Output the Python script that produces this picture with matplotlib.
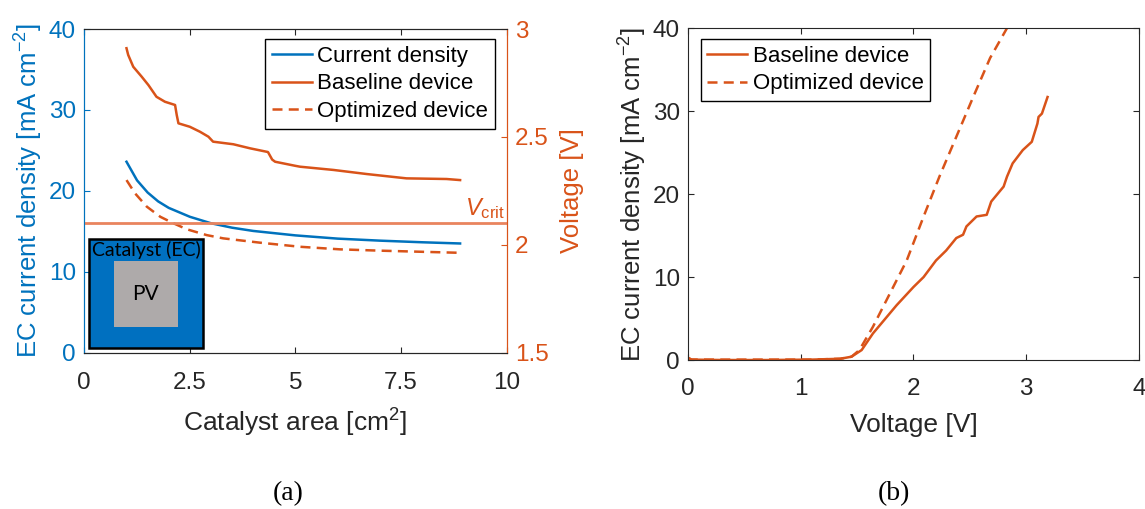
import numpy as np
import matplotlib
matplotlib.use("Agg")
import matplotlib.pyplot as plt
from matplotlib.patches import Rectangle

plt.rcParams['font.family'] = ['Liberation Sans', 'DejaVu Sans']
plt.rcParams['mathtext.fontset'] = 'custom'
plt.rcParams['mathtext.rm'] = 'Liberation Sans'
plt.rcParams['mathtext.it'] = 'Liberation Sans:italic'

BLUE = '#0072BD'
ORANGE = '#D95319'
VCRIT_C = '#E9845E'
GREY = '#262626'

# ---- panel (a) data ----
area_j = [1.0, 1.25, 1.5, 1.75, 2.0, 2.5, 3.0, 3.5, 4.0, 5.0, 6.0, 7.0, 8.0, 8.9]
current_density = [23.6, 21.3, 19.8, 18.7, 17.9, 16.8, 16.0, 15.45, 15.05, 14.5,
                   14.1, 13.85, 13.65, 13.5]

area_base = [1.0, 1.04, 1.16, 1.36, 1.52, 1.71, 1.91, 2.15, 2.19, 2.23, 2.5, 2.74,
             2.94, 3.05, 3.53, 3.93, 4.35, 4.45, 4.52, 5.0, 5.11, 5.9, 6.69, 7.63,
             8.58, 8.9]
volt_base = [2.911, 2.88, 2.825, 2.779, 2.74, 2.686, 2.663, 2.648, 2.601, 2.563,
             2.547, 2.524, 2.501, 2.478, 2.466, 2.447, 2.43, 2.395, 2.385, 2.366,
             2.362, 2.347, 2.328, 2.308, 2.305, 2.300]

area_opt = [1.0, 1.2, 1.48, 1.8, 2.11, 2.43, 2.9, 3.29, 4.16, 5.11, 6.06, 7.0,
            7.95, 8.9]
volt_opt = [2.30, 2.239, 2.177, 2.13, 2.10, 2.072, 2.045, 2.03, 2.01, 1.991,
            1.979, 1.973, 1.968, 1.963]

v_crit = 2.1

# ---- panel (b) data ----
v_base = [0.0, 0.03, 0.3, 0.7, 1.1, 1.35, 1.45, 1.54, 1.64, 1.85, 2.0, 2.09, 2.2,
          2.29, 2.38, 2.44, 2.47, 2.56, 2.65, 2.69, 2.8, 2.83, 2.88, 2.97, 3.05,
          3.1, 3.11, 3.14, 3.19]
j_base = [0.25, 0.05, 0.0, 0.0, 0.05, 0.15, 0.4, 1.2, 3.2, 6.6, 8.8, 10.0, 12.0,
          13.2, 14.7, 15.1, 16.1, 17.3, 17.5, 19.1, 20.9, 22.1, 23.7, 25.3, 26.3,
          28.5, 29.3, 29.7, 31.7]

v_opt = [0.0, 0.03, 1.1, 1.35, 1.45, 1.52, 1.64, 1.79, 1.94, 2.09, 2.23, 2.38,
         2.53, 2.68, 2.83]
j_opt = [0.25, 0.05, 0.05, 0.15, 0.4, 1.2, 4.0, 8.0, 12.0, 17.3, 22.1, 26.9,
         31.7, 36.4, 40.0]

fig = plt.figure(figsize=(11.45, 5.09), dpi=100)
ax1 = fig.add_axes([0.0736, 0.307, 0.3688, 0.636])
ax2 = ax1.twinx()
axb = fig.add_axes([0.601, 0.2927, 0.3936, 0.652])

lw = 1.8
dash = (4, 2.5)
TICK_FS = 17.5
XLAB_FS = 19
YLAB_FS = 18.5
LEG_FS = 16

# left axis: current density
h1, = ax1.plot(area_j, current_density, color=BLUE, lw=lw, label='Current density')
ax1.set_xlim(0, 10)
ax1.set_ylim(0, 40)
ax1.set_xticks([0, 2.5, 5, 7.5, 10])
ax1.set_xticklabels(['0', '2.5', '5', '7.5', '10'])
ax1.set_yticks([0, 10, 20, 30, 40])
ax1.set_xlabel('Catalyst area [cm$^{2}$]', fontsize=XLAB_FS, color=GREY, labelpad=9)
ax1.set_ylabel('EC current density [mA cm$^{-2}$]', fontsize=YLAB_FS, color=BLUE,
               labelpad=3)
ax1.tick_params(axis='x', direction='in', length=4, labelsize=TICK_FS, colors=GREY,
                top=True, pad=14)
ax1.tick_params(axis='y', direction='in', length=4, labelsize=TICK_FS, colors=BLUE, pad=6)

# inset schematic
ax1.add_patch(Rectangle((0.12, 0.54), 2.68, 13.56, facecolor='#0070C0',
                        edgecolor='black', lw=1.8, zorder=5))
ax1.add_patch(Rectangle((0.70, 3.2), 1.51, 8.1, facecolor='#AEAAAA',
                        edgecolor='none', zorder=6))
ax1.text(1.46, 12.7, 'Catalyst (EC)', fontsize=14, family=['Lato', 'DejaVu Sans'],
         ha='center', va='center', color='black', zorder=7)
ax1.text(1.46, 7.25, 'PV', fontsize=15, family=['Lato', 'DejaVu Sans'],
         ha='center', va='center', color='black', zorder=7)

# right axis: voltage
h2, = ax2.plot(area_base, volt_base, color=ORANGE, lw=lw, label='Baseline device')
h3, = ax2.plot(area_opt, volt_opt, color=ORANGE, lw=lw, dashes=dash,
               label='Optimized device')
ax2.axhline(v_crit, color=VCRIT_C, lw=2)
ax2.text(9.95, v_crit + 0.01, r'$V_{\mathrm{crit}}$', fontsize=17, color=ORANGE,
         ha='right', va='bottom')
ax2.set_ylim(1.5, 3)
ax2.set_yticks([1.5, 2, 2.5, 3])
ax2.set_yticklabels(['1.5', '2', '2.5', '3'])
ax2.set_ylabel('Voltage [V]', fontsize=YLAB_FS, color=ORANGE, labelpad=8)
ax2.tick_params(axis='y', direction='in', length=4, labelsize=TICK_FS, colors=ORANGE,
                pad=6)

for ax in (ax1, ax2):
    ax.spines['left'].set_color(BLUE)
    ax.spines['right'].set_color(ORANGE)
    ax.spines['top'].set_color(GREY)
    ax.spines['bottom'].set_color(GREY)
    for s in ax.spines.values():
        s.set_linewidth(0.8)

leg = ax2.legend(handles=[h1, h2, h3], loc='upper right',
                 bbox_to_anchor=(0.9725, 0.969), borderaxespad=0, fontsize=LEG_FS,
                 fancybox=False, edgecolor='black', framealpha=1,
                 handlelength=1.8, handletextpad=0.25, labelspacing=0.3,
                 borderpad=0.3)
leg.get_frame().set_linewidth(1.0)

# panel (b)
axb.plot(v_base, j_base, color=ORANGE, lw=lw, label='Baseline device')
axb.plot(v_opt, j_opt, color=ORANGE, lw=lw, dashes=dash, label='Optimized device')
axb.set_xlim(0, 4)
axb.set_ylim(0, 40)
axb.set_xticks([0, 1, 2, 3, 4])
axb.set_yticks([0, 10, 20, 30, 40])
axb.set_xlabel('Voltage [V]', fontsize=XLAB_FS, color=GREY, labelpad=9)
axb.set_ylabel('EC current density [mA cm$^{-2}$]', fontsize=YLAB_FS, color=GREY,
               labelpad=3)
axb.tick_params(axis='both', direction='in', length=4, labelsize=TICK_FS, colors=GREY,
                top=True, right=True)
axb.tick_params(axis='x', pad=13)
axb.tick_params(axis='y', pad=6)
for s in axb.spines.values():
    s.set_color(GREY)
    s.set_linewidth(0.8)
legb = axb.legend(loc='upper left', bbox_to_anchor=(0.0275, 0.967), borderaxespad=0,
                  fontsize=LEG_FS, fancybox=False, edgecolor='black', framealpha=1,
                  handlelength=1.8, handletextpad=0.25, labelspacing=0.3,
                  borderpad=0.3)
legb.get_frame().set_linewidth(1.0)

fig.text(0.2515, 0.031, '(a)', fontsize=20, family=['Liberation Serif'],
         ha='center', va='center')
fig.text(0.781, 0.031, '(b)', fontsize=20, family=['Liberation Serif'],
         ha='center', va='center')

fig.savefig('out.png', dpi=100)
